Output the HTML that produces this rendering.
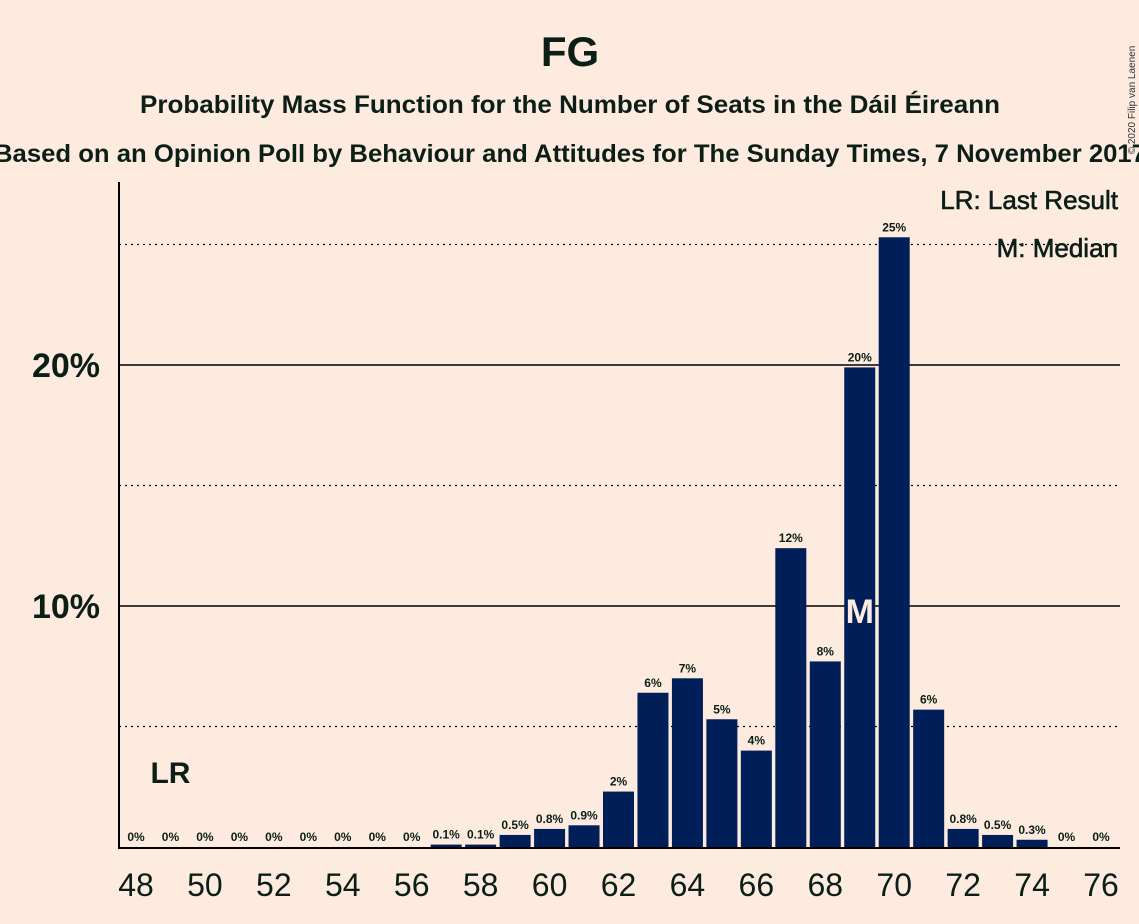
<!DOCTYPE html>
<html><head><meta charset="utf-8"><style>
body{margin:0;background:#FDEBE0;}
svg{display:block;font-family:"Liberation Sans",sans-serif;}
</style></head><body>
<svg width="1139" height="924" viewBox="0 0 1139 924">
<rect width="1139" height="924" fill="#FDEBE0"/>
<text x="570" y="66" text-anchor="middle" font-size="42" font-weight="bold" fill="#0B1F17">FG</text>
<text x="140" y="113" textLength="860" lengthAdjust="spacingAndGlyphs" font-size="25" font-weight="bold" fill="#0B1F17">Probability Mass Function for the Number of Seats in the Dáil Éireann</text>
<text x="-6" y="162" textLength="1152" lengthAdjust="spacingAndGlyphs" font-size="25" font-weight="bold" fill="#0B1F17">Based on an Opinion Poll by Behaviour and Attitudes for The Sunday Times, 7 November 2017</text>
<text x="1135" y="100" font-size="10" fill="#333" transform="rotate(-90 1135 100)" text-anchor="middle">© 2020 Filip van Laenen</text>
<g id="grid"></g>
<g id="bars"></g>
<g id="labels"></g>
<line x1="119" y1="182" x2="119" y2="848" stroke="#000" stroke-width="2"/>
<line x1="118" y1="848" x2="1120" y2="848" stroke="#000" stroke-width="2"/>
<text x="1118" y="209" text-anchor="end" font-size="26" fill="#0B1F17" stroke="#0B1F17" stroke-width="0.6">LR: Last Result</text>
<text x="1118" y="257" text-anchor="end" font-size="26" fill="#0B1F17" stroke="#0B1F17" stroke-width="0.6">M: Median</text>
</svg>
<script>
const seats=[48,49,50,51,52,53,54,55,56,57,58,59,60,61,62,63,64,65,66,67,68,69,70,71,72,73,74,75,76];
const probs=[0,0,0,0,0,0,0,0,0,0.1,0.1,0.5,0.75,0.9,2.3,6.4,7.0,5.3,4.0,12.4,7.7,19.9,25.3,5.7,0.75,0.5,0.3,0,0];
const valueLabels=["0%","0%","0%","0%","0%","0%","0%","0%","0%","0.1%","0.1%","0.5%","0.8%","0.9%","2%","6%","7%","5%","4%","12%","8%","20%","25%","6%","0.8%","0.5%","0.3%","0%","0%"];
const yTicks=[5,10,15,20,25];
const yTickLabels={10:"10%",20:"20%"};
const xTickSeats=[48,50,52,54,56,58,60,62,64,66,68,70,72,74,76];
const lastResult=49, median=69;
const NS="http://www.w3.org/2000/svg";
const x=s=>136+(s-48)*34.464;
const y=p=>847-p*24.1;
function mk(t,a,parent,txt){const e=document.createElementNS(NS,t);for(const k in a)e.setAttribute(k,a[k]);if(txt!==undefined)e.textContent=txt;document.getElementById(parent).appendChild(e);return e;}
yTicks.forEach(t=>{
 const solid=!!yTickLabels[t];
 const l=mk('line',{x1:119,x2:1120,y1:y(t),y2:y(t),stroke:'#000','stroke-width':solid?1.5:1.2,'stroke-dasharray':solid?'':'2,4'},'grid');
 
 
 if(solid){const tx=mk('text',{x:100,y:y(t)+12,'text-anchor':'end','font-size':34,'font-weight':'bold',fill:'#0B1F17'},'labels',yTickLabels[t]);
 
 }
});
seats.forEach((s,i)=>{
 const p=probs[i];
 if(p>0){const r=mk('rect',{x:x(s)-15.5,y:y(p),width:31,height:847-y(p),fill:'#001E57'},'bars');
 
 }
 const t=mk('text',{x:x(s),y:y(p)-6,'text-anchor':'middle','font-size':12,'font-weight':'bold',fill:'#0B1F17'},'labels',valueLabels[i]);
 
 
});
xTickSeats.forEach(s=>{
 const t=mk('text',{x:x(s),y:896,'text-anchor':'middle','font-size':32,fill:'#0B1F17'},'labels',String(s));
 
 
});
const lr=mk('text',{x:x(lastResult),y:783,'text-anchor':'middle','font-size':30,'font-weight':'bold',fill:'#0B1F17'},'labels','LR');


const m=mk('text',{x:x(median),y:623,'text-anchor':'middle','font-size':34,'font-weight':'bold',fill:'#FDEBE0'},'labels','M');


</script>
</body></html>
